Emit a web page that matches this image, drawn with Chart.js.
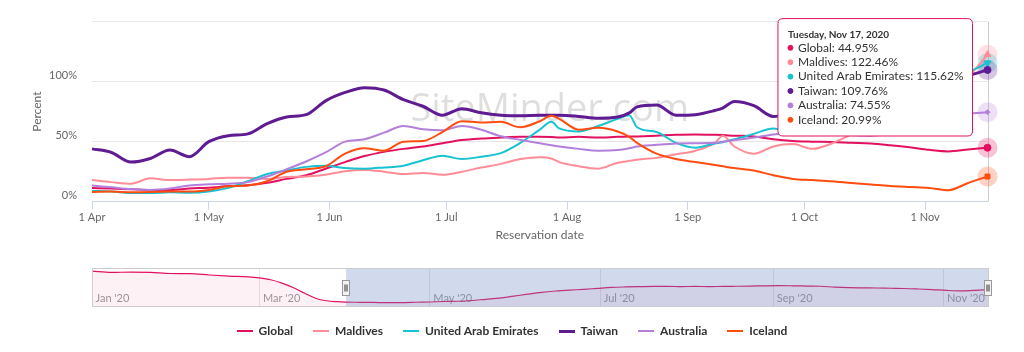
<!DOCTYPE html>
<html>
<head>
<meta charset="utf-8">
<title>Reservations by date</title>
<script src="https://cdn.jsdelivr.net/npm/chart.js"></script>
<style>
  html, body { margin:0; padding:0; background:#fff; overflow:hidden; }
  .wrap { position:relative; width:1024px; height:352px; }
  #main { position:absolute; left:0; top:0; }
  #nav { position:absolute; left:0; top:250px; }
  .legend { position:absolute; left:0; top:323px; width:1024px; height:16px; display:flex; justify-content:center; align-items:center; gap:20px; font:bold 12px Lato, sans-serif; color:#333; line-height:16px; }
  .legend .item { display:flex; align-items:center; white-space:nowrap; }
  .legend i { display:inline-block; width:16px; margin-right:6px; }
</style>
</head>
<body>
<div class="wrap">
  <canvas id="main" width="1024" height="250"></canvas>
  <canvas id="nav" width="1024" height="102"></canvas>
  <div class="legend" id="legend"></div>
</div>
<script>
'use strict';

// days counted from 1 Apr 2020
const DAYS = [0,5,10,15,20,25,30,35,40,45,50,55,60,65,70,75,80,85,90,95,100,105,110,115,118,120,125,130,135,138,140,145,150,155,160,162,165,170,175,180,185,190,195,200,205,210,215,220,225,230];

const GLOBAL    = [11.5,10.9,10.4,9.8,9.8,11,11.7,13,13.7,15.8,19,22,27.5,33,38,41.5,44,46,48.7,51.3,52.6,53.4,54,54,53.8,53.4,54,53.4,54,54.2,54.4,55,55.7,56,55.7,55.5,55,54.4,52,50.5,50,49.7,49,48.4,47,45.3,43.2,41.9,43.5,44.95];
const MALDIVES  = [18,16.3,15,19.5,18,18.4,19,20,20,19,20.5,21,22.5,25.4,26.5,25,23,24,22.5,25,28.5,31.5,35.5,37,36,33,29.5,27.5,32.5,34,35,36.5,39.5,42.5,49,55,46,40,46,48,44,48.5,56,65,72,80,87,94,104,122.46];
const UAE       = [9,8.5,7.3,7.3,7.8,7.5,8.5,11.5,17,23,26,29,30,28,27.5,28.5,30,34.5,38.3,35.5,37.5,40.5,49,60,66.5,61,58.5,63,69,72,62,58,49,45,48.5,49.5,52,56.5,61,58,63,68,75,82,88,94,100,104,108,115.62];
const TAIWAN    = [44,41,33,36,43,37.5,50,55,56.5,65,70.5,72.5,84,91,95,93,85,79.5,72,77.5,74,72,71.5,72,72,72,71,69.5,70.5,74,79,80.5,72,72.5,76,78,83.5,80,71,74,78,82,85,88,92,95,98,101,105,109.76];
const AUSTRALIA = [13.5,12,10.5,9.8,11,13.5,14.5,15,16.3,21,27,33.5,41,50,52,57.5,63,60.4,59.5,63,60,54.5,51.5,48.7,47,46,44,42.5,43,44.5,46,47.4,48.5,48.7,49,50,51.3,53.4,56,57.5,57.8,57,55.5,55,57,59,63,68,73,74.55];
const ICELAND   = [8,8.5,7.8,8,8.5,8.5,9.8,12.8,13.5,17,25,27,29.5,40,44.5,42.5,50,50.5,58,67,66,66.5,62,67,71.5,69,60,61.5,58.5,54,49,40,35.5,33,30.5,29.5,28,26,22,19,18,17,15.6,14.3,13,12.2,11.5,9.6,15.6,20.99];

const SERIES_NAMES  = ['Global','Maldives','United Arab Emirates','Taiwan','Australia','Iceland'];
const SERIES_VALUES = [GLOBAL, MALDIVES, UAE, TAIWAN, AUSTRALIA, ICELAND];

const MONTH_DAYS   = [0,30,61,91,122,153,183,214];
const MONTH_LABELS = ['1 Apr','1 May','1 Jun','1 Jul','1 Aug','1 Sep','1 Oct','1 Nov'];
const Y_TICKS  = [0,50,100,150];
const Y_LABELS = ['0%','50%','100%',''];

// navigator: Global before April (negative days), then the same Global series
const NAV_EARLY_DAYS   = [-91,-84,-77,-70,-63,-56,-49,-42,-35,-31,-27,-23,-19,-15,-11,-7,-3];
const NAV_EARLY_GLOBAL = [95.5,92,93,92,89,88.5,85,82,80,77,72,63,51,36,22,15,12.5];
const NAV_TICK_DAYS   = [-91,-31,30,91,153,214];
const NAV_TICK_LABELS = ["Jan '20","Mar '20","May '20","Jul '20","Sep '20","Nov '20"];

// styles
const COLORS   = ['#e2105f','#ff8c97','#17c3d1','#5f1b91','#b27fdb','#ff4d10'];
const WIDTHS   = [2,2,2,3,2,2];
const MARKERS  = ['circle','triangle','triangle','circle','rectRot','rect'];
const MARK_ROT = [0,0,180,0,0,0];
const MARK_R   = [3.5,4,4,3.5,2.5,3.5];

Chart.defaults.font.family = 'Lato, sans-serif';
Chart.defaults.color = '#666';

function hexA(hex, a){ const n = parseInt(hex.slice(1), 16); return `rgba(${n>>16},${(n>>8)&255},${n&255},${a})`; }
function titleFor(day){
  const d = new Date(Date.UTC(2020, 3, 1 + day));
  return d.toLocaleDateString('en-US', { weekday:'long', month:'short', day:'numeric', year:'numeric', timeZone:'UTC' });
}

Chart.Tooltip.positioners.besideLast = function(items){
  if (!items.length) return false;
  const el = items[0].element;
  return { x: el.x - 20, y: this.chart.chartArea.top - 3, xAlign: 'right', yAlign: 'top' };
};

// watermark, crosshair and halos under the lines
const hoverDecor = {
  id: 'hoverDecor',
  beforeDatasetsDraw(chart){
    const { ctx, chartArea: a } = chart;
    ctx.save();
    ctx.font = '38px "Open Sans", sans-serif';
    ctx.fillStyle = 'rgba(0,0,0,0.13)';
    ctx.textAlign = 'center';
    ctx.textBaseline = 'middle';
    ctx.fillText('SiteMinder.com', (a.left + a.right) / 2 + 10, (a.top + a.bottom) / 2 - 1);
    const act = chart.getActiveElements();
    if (act.length) {
      const x = Math.round(act[0].element.x) + 0.5;
      ctx.strokeStyle = '#cccccc';
      ctx.lineWidth = 1;
      ctx.beginPath(); ctx.moveTo(x, a.top); ctx.lineTo(x, a.bottom); ctx.stroke();
      act.forEach(({ datasetIndex, element }) => {
        ctx.fillStyle = hexA(COLORS[datasetIndex], 0.25);
        ctx.beginPath(); ctx.arc(element.x, element.y, 10, 0, Math.PI * 2); ctx.fill();
      });
    }
    ctx.restore();
  }
};

const mainChart = new Chart(document.getElementById('main'), {
  type: 'line',
  data: {
    datasets: SERIES_VALUES.map((vals, i) => ({
      label: SERIES_NAMES[i],
      data: DAYS.map((d, k) => ({ x: d, y: vals[k] })),
      borderColor: COLORS[i],
      backgroundColor: COLORS[i],
      borderWidth: WIDTHS[i],
      pointRadius: 0,
      pointStyle: MARKERS[i],
      pointRotation: MARK_ROT[i],
      pointHoverRadius: MARK_R[i],
      pointHoverBorderWidth: 1,
      pointHoverBackgroundColor: COLORS[i],
      pointHoverBorderColor: COLORS[i],
      cubicInterpolationMode: 'monotone',
      clip: false,
      order: SERIES_NAMES.length - i
    }))
  },
  options: {
    responsive: false,
    animation: false,
    events: [],
    layout: { padding: { left: 0, right: 36.5, top: 10, bottom: 0 } },
    scales: {
      x: {
        type: 'linear', min: DAYS[0], max: DAYS[DAYS.length - 1],
        afterBuildTicks: s => { s.ticks = MONTH_DAYS.map(v => ({ value: v })); },
        afterFit: s => { s.height = 48.3; },
        ticks: { callback: (v, i) => MONTH_LABELS[i], font: { size: 11 }, padding: 1, maxRotation: 0, autoSkip: false },
        grid: { drawOnChartArea: false, tickLength: 8, color: '#ccd6eb' },
        border: { color: '#ccd6eb' },
        title: { display: true, text: 'Reservation date', font: { size: 12 }, padding: { top: 0, bottom: 8 } }
      },
      y: {
        min: Y_TICKS[0], max: Y_TICKS[Y_TICKS.length - 1],
        afterBuildTicks: s => { s.ticks = Y_TICKS.map(v => ({ value: v })); },
        afterFit: s => { s.width = 92; },
        ticks: { callback: (v, i) => Y_LABELS[i], font: { size: 11 }, padding: 15, labelOffset: -6 },
        grid: { color: c => c.tick && c.tick.value === 0 ? 'rgba(0,0,0,0)' : '#e6e6e6', drawTicks: false },
        border: { display: false },
        title: { display: true, text: 'Percent', font: { size: 12 }, padding: { top: 30, bottom: 0 } }
      }
    },
    plugins: {
      legend: { display: false },
      tooltip: {
        position: 'besideLast',
        backgroundColor: '#ffffff',
        borderColor: COLORS[0],
        borderWidth: 1,
        cornerRadius: 5,
        caretSize: 0,
        caretPadding: 0,
        padding: { top: 10, bottom: 9, left: 10, right: 9 },
        titleColor: '#333',
        titleFont: { size: 10, weight: 'bold' },
        titleMarginBottom: 0,
        bodyColor: '#333',
        bodyFont: { size: 12 },
        bodySpacing: 0,
        displayColors: true,
        usePointStyle: true,
        boxWidth: 5,
        boxHeight: 5,
        boxPadding: 3,
        itemSort: (a, b) => a.datasetIndex - b.datasetIndex,
        callbacks: {
          title: items => titleFor(items[0].parsed.x),
          label: c => `${c.dataset.label}: ${c.parsed.y.toFixed(2)}%`,
          labelColor: c => ({ borderColor: COLORS[c.datasetIndex], backgroundColor: COLORS[c.datasetIndex] }),
          labelPointStyle: () => ({ pointStyle: 'circle', rotation: 0 })
        }
      }
    }
  },
  plugins: [hoverDecor]
});

// hover state on the last day, like the reference
const last = DAYS.length - 1;
const active = SERIES_NAMES.map((n, i) => ({ datasetIndex: i, index: last }));
mainChart.setActiveElements(active);
mainChart.tooltip.setActiveElements(active, { x: mainChart.scales.x.getPixelForValue(DAYS[last]), y: mainChart.chartArea.top });
mainChart.update();

// navigator mask, outline and handles
const navigatorMask = {
  id: 'navigatorMask',
  afterDatasetsDraw(chart){
    const { ctx, chartArea: a, scales: { x } } = chart;
    const x1 = x.getPixelForValue(DAYS[0]);
    const x2 = x.getPixelForValue(DAYS[DAYS.length - 1]);
    ctx.save();
    ctx.fillStyle = 'rgba(102,133,194,0.3)';
    ctx.fillRect(x1, a.top, x2 - x1, a.bottom - a.top);
    ctx.strokeStyle = '#cccccc';
    ctx.lineWidth = 1;
    ctx.strokeRect(Math.round(a.left) + 0.5, Math.round(a.top) + 0.5, Math.round(a.right - a.left), Math.round(a.bottom - a.top));
    const cy = (a.top + a.bottom) / 2;
    [x1, x2].forEach(hx => {
      const l = Math.round(hx - 4) + 0.5, t = Math.round(cy - 7.5) + 0.5;
      ctx.fillStyle = '#f2f2f2';
      ctx.strokeStyle = '#999999';
      ctx.fillRect(l, t, 7, 15);
      ctx.strokeRect(l, t, 7, 15);
      ctx.strokeStyle = '#333333';
      ctx.beginPath();
      ctx.moveTo(l + 2.5, t + 4); ctx.lineTo(l + 2.5, t + 11);
      ctx.moveTo(l + 4.5, t + 4); ctx.lineTo(l + 4.5, t + 11);
      ctx.stroke();
    });
    ctx.restore();
  }
};

const navData = NAV_EARLY_DAYS.map((d, k) => ({ x: d, y: NAV_EARLY_GLOBAL[k] }))
  .concat(DAYS.map((d, k) => ({ x: d, y: GLOBAL[k] })));

new Chart(document.getElementById('nav'), {
  type: 'line',
  data: {
    datasets: [{
      label: SERIES_NAMES[0],
      data: navData,
      borderColor: COLORS[0],
      borderWidth: 1.2,
      backgroundColor: hexA(COLORS[0], 0.06),
      fill: 'origin',
      pointRadius: 0,
      cubicInterpolationMode: 'monotone'
    }]
  },
  options: {
    responsive: false,
    animation: false,
    events: [],
    layout: { padding: { left: 92, right: 35.7, top: 18, bottom: 0 } },
    scales: {
      x: {
        type: 'linear', min: NAV_EARLY_DAYS[0], max: DAYS[DAYS.length - 1],
        afterBuildTicks: s => { s.ticks = NAV_TICK_DAYS.map(v => ({ value: v })); },
        afterFit: s => { s.height = 45.7; },
        // mirrored labels sit inside the navigator, just above its bottom edge
        ticks: { callback: (v, i) => NAV_TICK_LABELS[i], color: '#999', font: { size: 11 }, align: 'start', labelOffset: 3.5, mirror: true, padding: 1.5, maxRotation: 0, autoSkip: false },
        grid: { color: '#e6e6e6', drawTicks: false },
        border: { display: false }
      },
      y: { display: false, min: 0, max: 104 }
    },
    plugins: { legend: { display: false }, tooltip: { enabled: false } }
  },
  plugins: [navigatorMask]
});

document.getElementById('legend').innerHTML = SERIES_NAMES.map((n, i) =>
  `<span class="item"><i style="background:${COLORS[i]};height:${WIDTHS[i]}px"></i>${n}</span>`).join('');
</script>
</body>
</html>
